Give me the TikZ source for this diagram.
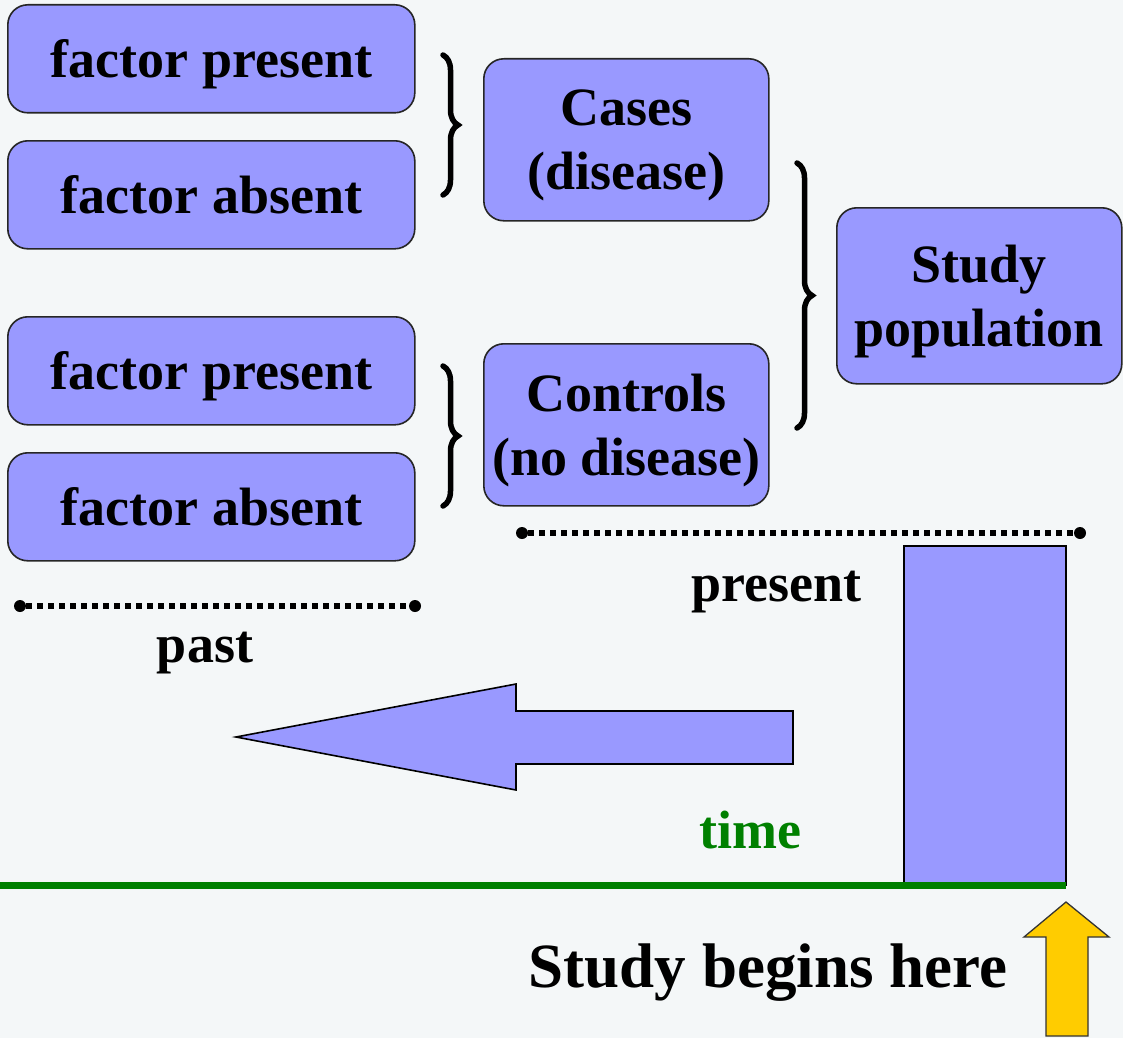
\documentclass[tikz,border=0pt]{standalone}
\usepackage{fontspec}
\setmainfont{Liberation Serif}
\usetikzlibrary{decorations.pathreplacing}
\definecolor{bgcol}{HTML}{F4F7F8}
\definecolor{boxblue}{HTML}{9999FF}
\definecolor{tgreen}{HTML}{008000}
\definecolor{gold}{HTML}{FFCC00}
\begin{document}
\begin{tikzpicture}[x=1pt,y=-1pt,
  bigfont/.style={font=\bfseries\fontsize{54}{64}\selectfont},
  box/.style={draw=black!85, line width=1.6pt, fill=boxblue, rounded corners=20pt,
    inner sep=0pt, align=center, anchor=north west, bigfont, text depth=0pt},
  factorbox/.style={box, minimum width=407pt, minimum height=108pt},
  groupbox/.style={box, minimum width=285pt, minimum height=162pt},
  curly/.style={decorate, decoration={brace, amplitude=15pt}, line width=5.5pt, line cap=round},
  dotline/.style={line width=5.5pt, dash pattern=on 5.5pt off 5.5pt},
  dotend/.style={circle, fill=black, inner sep=0pt, minimum size=12pt},
  txtlabel/.style={bigfont, anchor=base, inner sep=0pt},
  blueshape/.style={draw=black, line width=1.6pt, fill=boxblue, line join=miter}
]
\fill[bgcol] (0,0) rectangle (1123,1038);
\useasboundingbox (0,0) rectangle (1123,1038);

% left factor boxes
\node[factorbox] (fp1) at (7,4) {factor present};
\node[factorbox] (fa1) at (7,140) {factor absent};
\node[factorbox] (fp2) at (7,316) {factor present};
\node[factorbox] (fa2) at (7,452) {factor absent};

% group boxes
\node[groupbox] (cases) at (483,58) {Cases\\(disease)};
\node[groupbox] (controls) at (483,343) {Controls\\(no disease)};
\node[box, minimum width=285pt, minimum height=176pt] (study) at (836,207) {Study\\population};

% braces
\coordinate (b1t) at (443,55);  \coordinate (b1b) at (443,195);
\coordinate (b3t) at (443,366); \coordinate (b3b) at (443,506);
\coordinate (b2t) at (797,163); \coordinate (b2b) at (797,428);
\draw[curly] (b1t) -- (b1b);
\draw[curly] (b3t) -- (b3b);
\draw[curly] (b2t) -- (b2b);

% dotted time ranges
\node[dotend] (presL) at (522,533) {};
\node[dotend] (presR) at (1080,533) {};
\draw[dotline] (presL) -- (presR);
\node[dotend] (pastL) at (20,606) {};
\node[dotend] (pastR) at (415,606) {};
\draw[dotline] (pastL) -- (pastR);

\node[txtlabel] (present) at (776,601) {present};
\node[txtlabel] (past) at (205,662) {past};

% study bar
\draw[blueshape] (904,546) rectangle (1066,885);

% big left arrow
\draw[blueshape] (236,737) -- (516,684) -- (516,711) -- (793,711) -- (793,764)
  -- (516,764) -- (516,790) -- cycle;

% time axis
\node[txtlabel, text=tgreen] (time) at (750,848) {time};
\coordinate (axL) at (0,885.5);
\coordinate (axR) at (1066,885.5);
\draw[tgreen, line width=7pt] (axL) -- (axR);

% yellow arrow
\draw[draw=black!80, line width=1.3pt, fill=gold, line join=miter]
  (1066,902) -- (1109,937) -- (1088,937) -- (1088,1036) -- (1046,1036)
  -- (1046,937) -- (1024,937) -- cycle;

\node[anchor=base, inner sep=0pt, font=\bfseries\fontsize{63}{70}\selectfont] (begins) at (768,987) {Study begins here};
\end{tikzpicture}
\end{document}
